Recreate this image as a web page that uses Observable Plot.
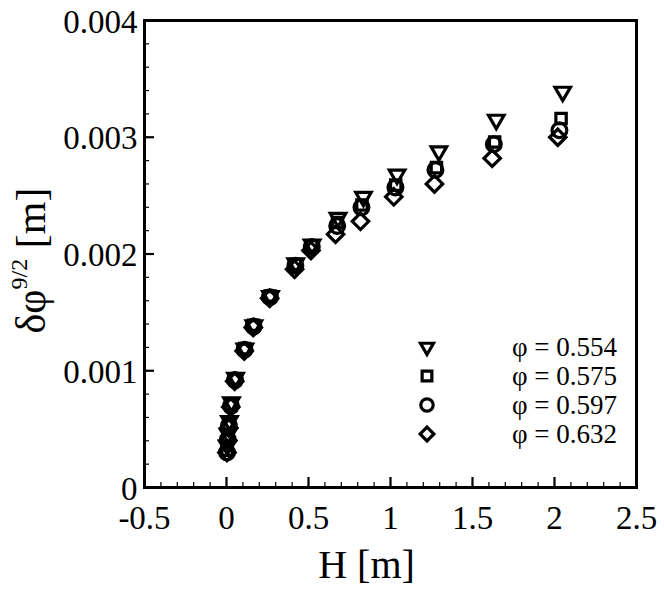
<!DOCTYPE html>
<html>
<head>
<meta charset="utf-8">
<script src="https://cdn.jsdelivr.net/npm/d3@7"></script>
<script src="https://cdn.jsdelivr.net/npm/@observablehq/plot@0.6"></script>
<style>
  html, body { margin: 0; padding: 0; background: #fff; }
  #chart { width: 664px; height: 591px; }
  #chart svg, #chart svg text, #chart svg tspan, #chart svg g {
    font-family: 'Liberation Serif', 'Times New Roman', serif !important;
  }
</style>
</head>
<body>
<div id="chart"></div>
<script>
// ---- Data ----
const seriesLabels = ["φ = 0.554", "φ = 0.575", "φ = 0.597", "φ = 0.632"];

const H_554 = [0.005, 0.010, 0.018, 0.030, 0.055, 0.112, 0.167, 0.268, 0.422, 0.522, 0.680, 0.835, 1.040, 1.295, 1.645, 2.050];
const D_554 = [0.00036, 0.00046, 0.00057, 0.00073, 0.00094, 0.00119, 0.00139, 0.00164, 0.00192, 0.00208, 0.00231, 0.00249, 0.00268, 0.00288, 0.00315, 0.00339];

const H_575 = [0.004, 0.009, 0.016, 0.028, 0.053, 0.110, 0.165, 0.266, 0.420, 0.520, 0.677, 0.826, 1.032, 1.280, 1.635, 2.040];
const D_575 = [0.00032, 0.00043, 0.00054, 0.00071, 0.00093, 0.00119, 0.00139, 0.00164, 0.00191, 0.00207, 0.00227, 0.00242, 0.00259, 0.00274, 0.00296, 0.00316];

const H_597 = [0.003, 0.008, 0.015, 0.027, 0.052, 0.110, 0.165, 0.265, 0.420, 0.520, 0.675, 0.823, 1.030, 1.274, 1.630, 2.030];
const D_597 = [0.00030, 0.00041, 0.00053, 0.00070, 0.00092, 0.00118, 0.00138, 0.00163, 0.00190, 0.00206, 0.00224, 0.00240, 0.00257, 0.00272, 0.00294, 0.00306];

const H_632 = [0.003, 0.008, 0.014, 0.026, 0.050, 0.108, 0.163, 0.263, 0.415, 0.515, 0.665, 0.817, 1.020, 1.268, 1.620, 2.020];
const D_632 = [0.00030, 0.00040, 0.00051, 0.00069, 0.00091, 0.00117, 0.00137, 0.00162, 0.00187, 0.00203, 0.00217, 0.00228, 0.00249, 0.00260, 0.00282, 0.00300];

const xTicks = [-0.5, 0, 0.5, 1, 1.5, 2, 2.5];
const xTickLabels = ["-0.5", "0", "0.5", "1", "1.5", "2", "2.5"];
const yTicks = [0, 0.001, 0.002, 0.003, 0.004];
const yTickLabels = ["0", "0.001", "0.002", "0.003", "0.004"];
const xMinor = d3.range(-5, 26).map(i => i / 10);
const yMinor = d3.range(0, 21).map(i => i * 0.0002);

// ---- Build table ----
const seriesH = [H_554, H_575, H_597, H_632];
const seriesD = [D_554, D_575, D_597, D_632];
const tables = seriesH.map((Hs, k) => Hs.map((h, i) => ({H: h, d: seriesD[k][i], s: seriesLabels[k]})));

// Inverted triangle symbol (stroke-friendly, like d3.symbolTriangle2 flipped)
const triangleDown = {
  draw(context, size) {
    const s = Math.sqrt(size) * 0.6824;
    const t = s / 2;
    const u = (s * Math.sqrt(3)) / 2;
    context.moveTo(0, s);
    context.lineTo(u, -t);
    context.lineTo(-u, -t);
    context.closePath();
  }
};
const symbols = [triangleDown, "square2", "circle", "diamond2"];
const radii = [7.4, 6.6, 7.4, 7.4];
const d3Symbols = [triangleDown, d3.symbolSquare2, d3.symbolCircle, d3.symbolDiamond2];

const FONT = "Liberation Serif, Times New Roman, serif";

const xLabelFmt = d => xTickLabels[xTicks.indexOf(d)];
const yLabelFmt = d => yTickLabels[yTicks.findIndex(v => Math.abs(v - d) < 1e-9)];

const chart = Plot.plot({
  width: 664,
  height: 591,
  marginLeft: 144,
  marginRight: 28,
  marginTop: 20,
  marginBottom: 104,
  style: {fontFamily: FONT, background: "#fff", color: "#000"},
  x: {domain: [-0.5, 2.5]},
  y: {domain: [0, 0.004]},
  marks: [
    // minor ticks (inward)
    Plot.axisX(xMinor, {tickSize: -5, text: null, label: null, strokeWidth: 1.2}),
    Plot.axisY(yMinor, {tickSize: -5, text: null, label: null, strokeWidth: 1.2}),
    // major ticks (inward)
    Plot.axisX(xTicks, {tickSize: -10, text: null, label: null, strokeWidth: 2.2}),
    Plot.axisY(yTicks, {tickSize: -10, text: null, label: null, strokeWidth: 2.2}),
    // tick labels
    Plot.axisX(xTicks, {tickSize: 0, tickPadding: 18, fontSize: 33, tickFormat: xLabelFmt, label: null}),
    Plot.axisY(yTicks, {tickSize: 0, tickPadding: 7, fontSize: 33, dy: 1.5, tickFormat: yLabelFmt, label: null}),
    // x axis title
    Plot.text(["H [m]"], {frameAnchor: "bottom", dy: 78, dx: -24, fontSize: 40, lineAnchor: "middle"}),
    // data
    ...tables.map((t, k) => Plot.dot(t, {x: "H", y: "d", symbol: symbols[k], r: radii[k], stroke: "#000", strokeWidth: 3.2, fill: "none"})),
    Plot.frame({stroke: "#000", strokeWidth: 3})
  ]
});

document.getElementById("chart").appendChild(chart);

// ---- y-axis title with superscript ----
const svg = d3.select(chart);
const yr = chart.scale("y").range;
const xr = chart.scale("x").range;
const yMid = (yr[0] + yr[1]) / 2;
const yt = svg.append("text")
  .attr("transform", `translate(45,${yMid + 7}) rotate(-90)`)
  .attr("text-anchor", "middle")
  .attr("font-family", FONT)
  .attr("font-size", 42)
  .attr("fill", "#000");
yt.append("tspan").text("δφ");
yt.append("tspan").attr("font-size", 24).attr("dy", -18).text("9/2");
yt.append("tspan").attr("dy", 18).text(" [m]");

// ---- legend ----
const right = Math.max(xr[0], xr[1]);
const lg = svg.append("g").attr("font-family", FONT).attr("font-size", 27);
seriesLabels.forEach((lab, k) => {
  const cy = 347 + k * 29;
  lg.append("path")
    .attr("transform", `translate(${right - 209},${cy})`)
    .attr("d", d3.symbol(d3Symbols[k], Math.PI * 6.2 * 6.2)())
    .attr("fill", "none").attr("stroke", "#000").attr("stroke-width", 3.2);
  lg.append("text")
    .attr("x", right - 19).attr("y", cy)
    .attr("dy", "0.35em")
    .attr("text-anchor", "end")
    .text(lab);
});
</script>
</body>
</html>
